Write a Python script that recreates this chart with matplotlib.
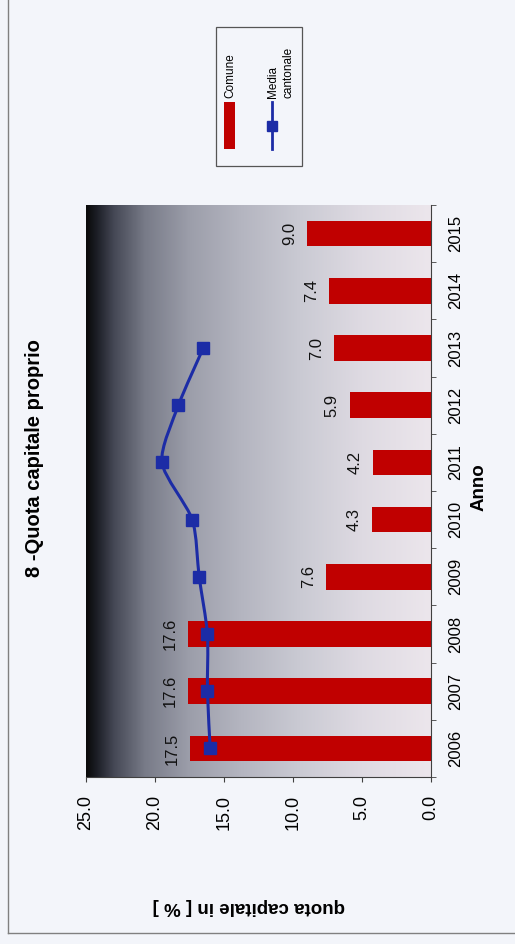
import numpy as np
import matplotlib
matplotlib.use('Agg')
import matplotlib.pyplot as plt
from matplotlib.colors import LinearSegmentedColormap
from matplotlib.path import Path
from matplotlib.patches import PathPatch, Rectangle
from matplotlib.lines import Line2D

anni = ['2006', '2007', '2008', '2009', '2010', '2011', '2012', '2013', '2014', '2015']
comune = [17.5, 17.6, 17.6, 7.6, 4.3, 4.2, 5.9, 7.0, 7.4, 9.0]
mediaCantonale = [16.0, 16.2, 16.2, 16.8, 17.3, 19.5, 18.3, 16.5]
valoriAsse = [0, 5, 10, 15, 20, 25]

W, H = 515, 944
rosso = '#c00000'
blu = '#1c2ca6'


def px(x, y):
    # pixel dell'immagine -> coordinate figura
    return x / W, 1 - y / H


def curvaLiscia(xs, ys, k=8):
    # curva di Bezier che passa per i punti (come la linea "smussata" di Excel)
    pts = np.column_stack([xs, ys])
    ext = np.vstack([pts[0], pts, pts[-1]])
    verts = [pts[0]]
    codes = [Path.MOVETO]
    for i in range(len(pts) - 1):
        p0, p1, p2, p3 = ext[i], ext[i + 1], ext[i + 2], ext[i + 3]
        verts += [p1 + (p2 - p0) / k, p2 - (p3 - p1) / k, p2]
        codes += [Path.CURVE4] * 3
    return Path(verts, codes)


plt.rcParams['font.family'] = ['Liberation Sans', 'DejaVu Sans']

fig = plt.figure(figsize=(W / 100, H / 100), dpi=100, facecolor='#f3f5fa')
x0, y0 = px(86, 777)
x1, y1 = px(431, 205)
ax = fig.add_axes([x0, y0, x1 - x0, y1 - y0])
pos = np.arange(len(anni))

sfondo = LinearSegmentedColormap.from_list('sfondo', [
    (0.0, '#0a0a0a'), (0.03, '#1c1e26'), (0.08, '#454855'), (0.17, '#787b88'),
    (0.3, '#9c9eaa'), (0.45, '#b4b5c0'), (0.62, '#cacad3'), (0.8, '#dedae2'),
    (1.0, '#ece6ec')])
ax.imshow(np.linspace(0, 1, 256).reshape(1, -1), cmap=sfondo,
          extent=[25, 0, -0.5, 9.5], aspect='auto', zorder=0)

ax.barh(pos, comune, height=0.45, color=rosso, zorder=2)
for i, v in enumerate(comune):
    ax.annotate(f'{v:.1f}', xy=(v, i), xytext=(-10, 0), textcoords='offset pixels',
                rotation=90, ha='right', va='center', fontsize=12, color='#111111')

posMedia = pos[:len(mediaCantonale)]
ax.add_patch(PathPatch(curvaLiscia(mediaCantonale, posMedia), fill=False,
                       edgecolor=blu, lw=2.2, zorder=3))
ax.plot(mediaCantonale, posMedia, linestyle='none', marker='s', markersize=8,
        color=blu, zorder=4)

ax.set_xlim(25, 0)
ax.set_ylim(-0.5, 9.5)
ax.set_xticks(valoriAsse)
ax.set_xticklabels([f'{v:.1f}' for v in valoriAsse], rotation=90, ha='center')
ax.tick_params(axis='x', length=3.6, direction='out', pad=9, labelsize=13,
               color='#404040')

ax.yaxis.tick_right()
ax.set_yticks(pos)
ax.set_yticklabels(anni, rotation=90, va='center')
ax.set_yticks(np.arange(-0.5, 10, 1), minor=True)
ax.tick_params(axis='y', which='major', length=0, pad=12, labelsize=12)
ax.tick_params(axis='y', which='minor', length=3.6, direction='out', color='#404040')

ax.spines['top'].set_visible(False)
ax.spines['left'].set_visible(False)
ax.spines['bottom'].set_color('#404040')
ax.spines['right'].set_color('#404040')

fig.text(*px(35, 458), '8 -Quota capitale proprio', rotation=90, ha='center',
         va='center', fontsize=14.5, fontweight='bold')
fig.text(*px(479, 487), 'Anno', rotation=90, ha='center', va='center',
         fontsize=13.5, fontweight='bold')
fig.text(*px(249, 907), 'quota capitale in [ % ]', rotation=180, ha='center',
         va='center', fontsize=13.5, fontweight='bold')

# legenda (ruotata come il resto)
fig.add_artist(Rectangle(px(216, 166), 86 / W, 139 / H, fill=False,
                         edgecolor='#555555', lw=0.9, transform=fig.transFigure))
fig.add_artist(Rectangle(px(224, 149), 11 / W, 47 / H, facecolor=rosso,
                         edgecolor='none', transform=fig.transFigure))
fig.text(*px(230, 98), 'Comune', rotation=90, ha='center', va='bottom', fontsize=8.5)
lx, ly0 = px(272, 102)
_, ly1 = px(272, 149)
fig.add_artist(Line2D([lx, lx], [ly0, ly1], color=blu, lw=2, transform=fig.transFigure))
fig.add_artist(Line2D([lx], [(ly0 + ly1) / 2], marker='s', markersize=7, color=blu,
                      transform=fig.transFigure))
fig.text(*px(281, 98), 'Media\ncantonale', rotation=90, ha='center', va='bottom',
         multialignment='left', linespacing=1.4, fontsize=8.5)

# cornice esterna (solo lato sinistro e in basso)
fig.add_artist(Line2D([8 / W, 8 / W], [1, 1 - 933 / H], color='#808080', lw=1,
                      transform=fig.transFigure))
fig.add_artist(Line2D([8 / W, 1], [1 - 933 / H, 1 - 933 / H], color='#808080', lw=1,
                      transform=fig.transFigure))

fig.savefig('out.png', dpi=100, facecolor=fig.get_facecolor())
